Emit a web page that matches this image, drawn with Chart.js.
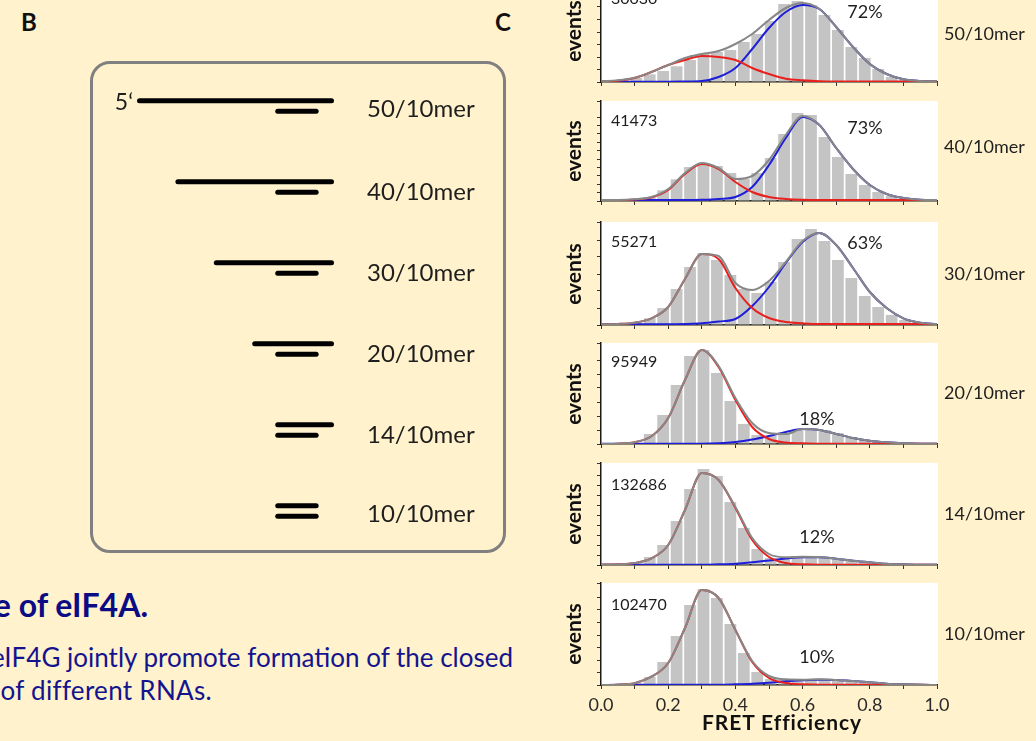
<!DOCTYPE html>
<html>
<head>
<meta charset="utf-8">
<script src="https://cdn.jsdelivr.net/npm/chart.js@4"></script>
<style>
  html, body { margin:0; padding:0; }
  body { width:1036px; height:741px; background:#fff2cc; position:relative; overflow:hidden; font-family:'Lato','Open Sans',sans-serif; color:#1e1e1e; }
  .t { position:absolute; white-space:nowrap; line-height:1.2; }
  canvas { position:absolute; }
  #box { position:absolute; left:90px; top:61px; width:416px; height:492px; box-sizing:border-box; border:3px solid #808080; border-radius:20px; }
</style>
</head>
<body>
<div id="box"></div>
<script>
// ---------------- DATA ----------------
// Panel B: RNA constructs (long strand / 10mer), positions in nucleotides
const constructs   = ['50/10mer', '40/10mer', '30/10mer', '20/10mer', '14/10mer', '10/10mer'];
const strandStart  = [0, 10, 20, 30, 36, 36];
const strandEnd    = [50, 50, 50, 50, 50, 46];
const shortStart   = 36;
const shortEnd     = 46;

// Panel C: FRET histograms
const fretBins = [0.025, 0.065, 0.105, 0.145, 0.185, 0.225, 0.265, 0.305, 0.345, 0.385, 0.425, 0.465, 0.505,
                  0.545, 0.585, 0.625, 0.665, 0.705, 0.745, 0.785, 0.825, 0.865, 0.905, 0.945, 0.985];
const fitX = [0, 0.05, 0.1, 0.15, 0.2, 0.25, 0.3, 0.35, 0.4, 0.45, 0.5, 0.55, 0.6, 0.65, 0.7, 0.75, 0.8, 0.85, 0.9, 0.95, 1.0];
const xTickLabels = ['0.0', '0.2', '0.4', '0.6', '0.8', '1.0'];

const eventCounts = ['30030', '41473', '55271', '95949', '132686', '102470'];
const highFretPct = ['72%', '73%', '63%', '18%', '12%', '10%'];

// histogram bar heights (relative events)
const hist50 = [1, 1.7, 4, 7.7, 11, 15.7, 22, 28, 30, 32, 40, 48, 61, 78, 81, 77, 67, 52, 35, 24, 13, 5, 2.3, 1.3, 1];
const hist40 = [0.7, 1, 2, 4, 10.7, 21.7, 34, 38, 35, 28, 22, 28, 43, 67, 88, 86, 64, 44, 27, 16, 9, 5, 2.7, 1.5, 1];
const hist30 = [1, 1.3, 2.3, 6.7, 17, 36, 58, 72, 65, 50, 36, 32, 43, 63, 86, 96, 84, 65, 47, 29, 18, 10, 5, 2.3, 1.3];
const hist20 = [0.3, 0.7, 1, 10, 29, 59, 88, 94, 71, 43, 20, 9, 8, 10, 14, 15, 14, 11, 7, 4, 2, 1, 0.7, 0.3, 0.3];
const hist14 = [0.3, 0.7, 1.7, 8, 20, 44, 76, 96, 89, 63, 37, 16, 7, 6, 7, 7.7, 7, 5.7, 4, 2.7, 1.7, 1, 0.7, 0.3, 0.3];
const hist10 = [0.3, 0.7, 1.7, 8, 23, 49, 80, 96, 87, 61, 32, 13, 6, 4.7, 5, 5, 4.7, 4, 3, 2, 1.3, 0.7, 0.3, 0.3, 0.3];

// fitted curves sampled at fitX: total (gray), low-FRET (red), high-FRET (blue)
const total50 = [0.7, 1.7, 4.3, 10, 17, 24, 28, 31, 38, 48, 62, 74, 79, 73, 55, 35, 18, 8, 2.7, 1, 0.7];
const low50   = [0.7, 1.3, 4, 10, 17, 22, 26, 25, 22, 14, 8, 3.3, 1.7, 0.7, 0.5, 0.5, 0.5, 0.5, 0.5, 0.5, 0.5];
const high50  = [0.3, 0.3, 0.3, 0.3, 0.3, 0.5, 1, 5, 14, 33, 54, 70, 77, 73, 55, 35, 18, 8, 2.7, 1, 0.7];

const total40 = [1, 1, 1.7, 4, 12, 28, 38, 33, 22, 25, 41, 66, 85, 76, 53, 32, 16, 7, 3, 1.3, 1];
const low40   = [1, 1, 1.5, 3.5, 11, 27, 37, 32, 19, 9, 4, 2, 1.2, 1, 1, 1, 1, 1, 1, 1, 1];
const high40  = [1, 1, 1, 1, 1, 1, 1.2, 2, 4, 14, 36, 63, 84, 76, 53, 32, 16, 7, 3, 1.3, 1];

const total30 = [0.7, 1, 2.3, 6.7, 18, 46, 71, 69, 42, 35, 44, 63, 84, 92, 80, 57, 33, 17, 6.7, 2.3, 1];
const low30   = [0.7, 1, 2.3, 6.7, 18, 46, 71, 66, 37, 17, 7, 3, 1.7, 1, 1, 1, 1, 1, 1, 1, 1];
const high30  = [0.7, 0.7, 0.7, 0.7, 0.7, 1, 1.7, 3.5, 6, 19, 38, 62, 83, 92, 80, 57, 33, 17, 6.7, 2.3, 1];

const total20 = [0, 0.3, 1.7, 7.7, 26, 64, 94, 78, 46, 21, 11, 10, 15, 14, 10, 6, 3.3, 1.7, 0.7, 0.3, 0.3];
const low20   = [0, 0.3, 1.7, 7.7, 26, 64, 94, 77, 44, 17, 5, 1.5, 0.7, 0.3, 0.3, 0.3, 0.3, 0.3, 0.3, 0.3, 0.3];
const high20  = [0.3, 0.3, 0.3, 0.3, 0.3, 0.3, 0.3, 0.7, 2, 4.5, 8, 12, 15, 14, 10, 6, 3.3, 1.7, 0.7, 0.3, 0.3];

const total14 = [0.3, 0.7, 2, 6.7, 20, 55, 92, 85, 58, 27, 11, 7.7, 8.3, 8, 6.3, 4.3, 2.7, 1.3, 0.7, 0.3, 0.3];
const low14   = [0.3, 0.7, 2, 6.7, 20, 55, 92, 85, 57, 25, 8, 2, 0.7, 0.3, 0.3, 0.3, 0.3, 0.3, 0.3, 0.3, 0.3];
const high14  = [0.3, 0.3, 0.3, 0.3, 0.3, 0.3, 0.3, 0.7, 1.3, 2.7, 4.5, 6.5, 7.7, 7.7, 6.3, 4.3, 2.7, 1.3, 0.7, 0.3, 0.3];

const total10 = [0, 0.3, 1.7, 8.3, 22, 57, 95, 87, 55, 24, 9, 5.7, 5.3, 5.7, 5, 4, 2.7, 1.3, 0.7, 0.3, 0];
const low10   = [0, 0.3, 1.7, 8.3, 22, 57, 95, 87, 55, 23, 7, 2, 0.7, 0.3, 0.3, 0.3, 0.3, 0.3, 0.3, 0.3, 0];
const high10  = [0, 0.3, 0.3, 0.3, 0.3, 0.3, 0.3, 0.3, 0.7, 1.3, 2.3, 3.7, 4.7, 5.3, 5, 4, 2.7, 1.3, 0.7, 0.3, 0];

const hists  = [hist50, hist40, hist30, hist20, hist14, hist10];
const totals = [total50, total40, total30, total20, total14, total10];
const lows   = [low50, low40, low30, low20, low14, low10];
const highs  = [high50, high40, high30, high20, high14, high10];

// ---------------- LAYOUT ----------------
const plotLeft = 601, plotRight = 937;
const panelTop    = [-20, 101, 222, 343, 463, 583];
const panelBottom = [82, 201, 325, 444, 565, 685];
const yTickStep   = [12.5, 8.4, 17, 14, 10, 12.5];
const FONT = "'Lato','Open Sans',sans-serif";
Chart.defaults.font.family = FONT;

function addText(txt, x, y, o) {
  const d = document.createElement('div');
  d.className = 't';
  d.textContent = txt;
  d.style.fontSize = (o.size || 16) + 'px';
  if (o.bold) d.style.fontWeight = '700';
  if (o.color) d.style.color = o.color;
  if (o.spacing) d.style.letterSpacing = o.spacing + 'px';
  d.style.top = y + 'px';
  if (o.anchor === 'right') {
    d.style.right = (1036 - x) + 'px';
    d.style.transform = 'translateY(-50%)';
  } else if (o.anchor === 'left') {
    d.style.left = x + 'px';
    d.style.transform = 'translateY(-50%)';
  } else {
    d.style.left = x + 'px';
    d.style.transform = 'translate(-50%,-50%)' + (o.rotate ? ' rotate(' + o.rotate + 'deg)' : '');
  }
  d.style.zIndex = 5;
  document.body.appendChild(d);
}

const plotBg = {
  id: 'plotBg',
  beforeDraw(chart) {
    const {ctx, chartArea: a} = chart;
    ctx.save();
    ctx.fillStyle = '#ffffff';
    ctx.fillRect(a.left, a.top, a.right - a.left + 1, a.bottom - a.top);
    ctx.restore();
  }
};

// ---------------- PANEL C ----------------
function makeHist(i) {
  const plotH = panelBottom[i] - panelTop[i];
  const isLast = i === hists.length - 1;
  const xh = isLast ? 30 : 6;
  const padTop = 4, yw = 20, padRight = 20;
  const W = yw + (plotRight - plotLeft) + padRight;
  const H = padTop + plotH + xh;
  const c = document.createElement('canvas');
  c.width = W; c.height = H;
  c.style.left = (plotLeft - yw) + 'px';
  c.style.top = (panelTop[i] - padTop) + 'px';
  c.style.width = W + 'px'; c.style.height = H + 'px';
  document.body.appendChild(c);
  const curve = (arr, color, ord, label) => ({
    type: 'line', label, order: ord,
    data: fitX.map((x, j) => ({x, y: arr[j]})),
    borderColor: color, borderWidth: 2, pointRadius: 0,
    cubicInterpolationMode: 'monotone', fill: false
  });
  new Chart(c, {
    type: 'line',
    data: {
      datasets: [
        curve(totals[i], '#878787', 0, 'total fit'),
        curve(lows[i], '#e8201e', 1, 'low FRET'),
        curve(highs[i], '#1e1ed8', 2, 'high FRET'),
        {
          type: 'bar', label: 'events', order: 3,
          data: fretBins.map((x, j) => ({x, y: hists[i][j]})),
          backgroundColor: '#c4c4c4', borderWidth: 0,
          barPercentage: 0.875, categoryPercentage: 1
        }
      ]
    },
    options: {
      responsive: false, animation: false, events: [],
      layout: {padding: {left: 0, right: padRight, top: padTop, bottom: 0}},
      plugins: {legend: {display: false}, tooltip: {enabled: false}},
      scales: {
        x: {
          type: 'linear', min: 0, max: 1, offset: false,
          afterFit(s) { s.height = xh; },
          border: {display: true, color: '#1a1a1a', width: 1.5},
          grid: {drawOnChartArea: false, offset: false, drawTicks: true, tickLength: 4, color: '#333'},
          ticks: {
            display: isLast, stepSize: 0.1, autoSkip: false, maxRotation: 0, padding: 5,
            color: '#2a2a2a', font: {size: 18, family: FONT},
            callback(v) {
              const k = Math.round(v * 10);
              return k % 2 === 0 ? xTickLabels[k / 2] : '';
            }
          }
        },
        y: {
          type: 'linear', min: 0, max: plotH,
          afterFit(s) { s.width = yw; },
          border: {display: true, color: '#1a1a1a', width: 1.5},
          grid: {drawOnChartArea: false, drawTicks: true, tickLength: 4, color: '#333'},
          ticks: {display: false, stepSize: yTickStep[i]}
        }
      }
    },
    plugins: [plotBg]
  });
}
hists.forEach((h, i) => makeHist(i));

// ---------------- PANEL B (schematic) ----------------
(function () {
  const c = document.createElement('canvas');
  const L = 91, T = 62, W = 414, H = 490;
  c.width = W; c.height = H;
  c.style.left = L + 'px'; c.style.top = T + 'px';
  c.style.width = W + 'px'; c.style.height = H + 'px';
  document.body.appendChild(c);
  const duplexGap = 0.131;
  const ds = [];
  constructs.forEach((name, r) => {
    ds.push({data: [{x: strandStart[r], y: r}, {x: strandEnd[r], y: r}]});
    ds.push({data: [{x: shortStart, y: r + duplexGap}, {x: shortEnd, y: r + duplexGap}]});
  });
  ds.forEach(d => Object.assign(d, {
    showLine: true, borderColor: '#000', borderWidth: 5, borderCapStyle: 'round',
    pointRadius: 0, fill: false
  }));
  new Chart(c, {
    type: 'scatter',
    data: {datasets: ds},
    options: {
      responsive: false, animation: false, events: [],
      layout: {padding: 0},
      plugins: {legend: {display: false}, tooltip: {enabled: false}},
      scales: {
        x: {type: 'linear', display: false, min: -12.63, max: 95.18},
        y: {type: 'linear', display: false, reverse: true, min: -0.478, max: 5.572}
      }
    }
  });
})();

// ---------------- TEXT ----------------
addText('B', 29, 22, {size: 24, bold: true, color: '#111'});
addText('C', 503, 22, {size: 24, bold: true, color: '#111'});
addText('5\u2018', 124, 102, {size: 23});
const bLabelY = [108, 190.7, 271.7, 352.7, 434, 512.7];
constructs.forEach((n, r) => addText(n, 367, bLabelY[r], {size: 24, anchor: 'left'}));

const rightLabelY = [34, 147, 274, 393, 514, 634];
const countY = [-2, 120, 241, 361, 484, 604];
const pctPos = [[865, 12], [865, 128], [865, 243], [817, 419], [817, 537], [817, 657]];
constructs.forEach((n, i) => {
  addText(n, 944, rightLabelY[i], {size: 18, anchor: 'left'});
  addText(eventCounts[i], 611, countY[i], {size: 16, anchor: 'left'});
  addText(highFretPct[i], pctPos[i][0], pctPos[i][1], {size: 18});
  addText('events', 573, (panelTop[i] + panelBottom[i]) / 2, {size: 21, bold: true, rotate: -90, color: '#111'});
});
addText('FRET Efficiency', 782, 722, {size: 21, bold: true, color: '#111', spacing: 0.9});

addText('e of eIF4A.', 148, 605, {size: 32, bold: true, anchor: 'right', color: '#0b0b86'});
addText('eIF4G jointly promote formation of the closed', 513, 658, {size: 26, anchor: 'right', color: '#14148f'});
addText('e of different RNAs.', 212, 691, {size: 26, anchor: 'right', color: '#14148f', spacing: 0.3});
</script>
</body>
</html>
